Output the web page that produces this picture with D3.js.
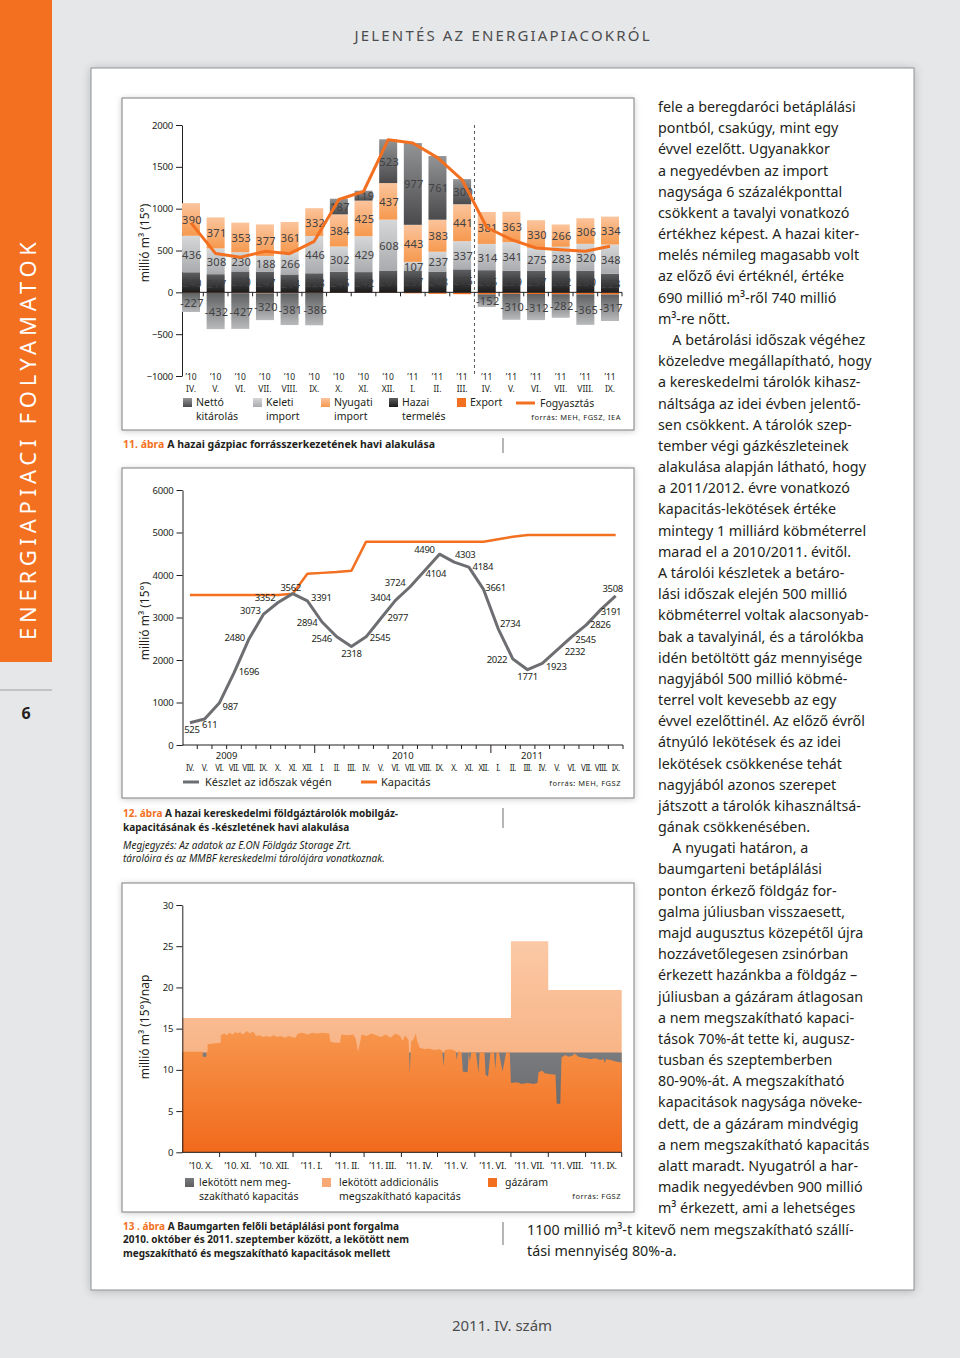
<!DOCTYPE html>
<html lang="hu"><head><meta charset="utf-8"><title>Energiapiaci folyamatok</title>
<script src="https://cdn.jsdelivr.net/npm/d3@7/dist/d3.min.js"></script>
<style>
html,body{margin:0;padding:0;background:#e6e7e8;}
svg{display:block;font-family:"Noto Sans",sans-serif;}
</style></head><body>
<svg id="page" width="960" height="1358" xmlns="http://www.w3.org/2000/svg"></svg>
<script>
// ================= DATA =================
// 11. ábra – monthly gas balance (millió m3)
const months11 = ["IV.","V.","VI.","VII.","VIII.","IX.","X.","XI.","XII.","I.","II.","III.","IV.","V.","VI.","VII.","VIII.","IX."];
const years11 = ["’10","’10","’10","’10","’10","’10","’10","’10","’10","’11","’11","’11","’11","’11","’11","’11","’11","’11"];
const hazaiTermeles = [240,217,250,247,214,228,246,242,261,257,248,275,265,259,257,262,260,223];
const keletiImport  = [436,308,230,188,266,446,302,429,608,107,237,337,314,341,275,283,320,348];
const nyugatiImport = [390,371,353,377,361,332,384,425,437,443,383,441,381,363,330,266,306,334];
const nettoKitarolas = [-227,-432,-427,-320,-381,-386,187,119,523,977,761,300,-152,-310,-312,-282,-365,-317];
const exportValues  = [-8,-8,-10,-12,-10,-8,-6,-6,-8,-12,-18,-22,-24,-18,-20,-22,-24,-26];
const fogyasztas    = [830,463,420,490,462,610,1110,1205,1825,1785,1610,1345,775,630,530,510,490,550];
const yTicks11 = [-1000,-500,0,500,1000,1500,2000];

// 12. ábra – storage stock and capacity (millió m3)
const months12 = ["IV.","V.","VI.","VII.","VIII.","IX.","X.","XI.","XII.","I.","II.","III.","IV.","V.","VI.","VII.","VIII.","IX.","X.","XI.","XII.","I.","II.","III.","IV.","V.","VI.","VII.","VIII.","IX."];
const years12 = ["2009","2010","2011"];
const keszlet   = [525,611,987,1696,2480,3073,3352,3562,3391,2894,2546,2318,2545,2977,3404,3724,4104,4490,4303,4184,3661,2734,2022,1771,1923,2232,2545,2826,3191,3508];
const kapacitas = [3530,3530,3530,3530,3530,3530,3530,3560,4030,4050,4070,4100,4784,4784,4784,4784,4784,4784,4784,4784,4784,4840,4900,4940,4940,4940,4940,4940,4940,4940];
const yTicks12 = [0,1000,2000,3000,4000,5000,6000];

// 13. ábra – Baumgarten entry point (millió m3/nap)
const months13 = ["’10. X.","’10. XI.","’10. XII.","’11. I.","’11. II.","’11. III.","’11. IV.","’11. V.","’11. VI.","’11. VII.","’11. VIII.","’11. IX."];
const monthStarts13 = ["2010-10-01","2010-11-01","2010-12-01","2011-01-01","2011-02-01","2011-03-01","2011-04-01","2011-05-01","2011-06-01","2011-07-01","2011-08-01","2011-09-01"];
const totalCapacity13 = [16.3,16.3,16.3,16.3,16.3,16.3,16.3,16.3,16.3,25.6,19.7,19.7];
const firmCapacity13  = [12.1,12.1,12.1,12.1,12.1,12.1,12.1,12.1,12.1,12.1,12.1,12.1];
const flowDates = ["2010-10-01","2010-10-18","2010-10-18","2010-10-21","2010-10-21","2010-10-22","2010-10-22","2010-10-27","2010-11-02","2010-11-02",
"2010-11-05","2010-11-07","2010-11-09","2010-11-12","2010-11-14","2010-11-16","2010-11-18","2010-11-20","2010-11-22","2010-11-24","2010-11-26","2010-11-28","2010-11-30",
"2010-12-01","2010-12-04","2010-12-07","2010-12-10","2010-12-13","2010-12-16","2010-12-19","2010-12-22","2010-12-25","2010-12-28","2010-12-31",
"2011-01-03","2011-01-05","2011-01-09","2011-01-13","2011-01-17","2011-01-21","2011-01-25","2011-01-31",
"2011-02-01","2011-02-05","2011-02-09","2011-02-10","2011-02-15","2011-02-20","2011-02-22","2011-02-24","2011-02-26","2011-02-27",
"2011-03-03","2011-03-07","2011-03-11","2011-03-15","2011-03-19","2011-03-23","2011-03-27","2011-03-31",
"2011-04-02","2011-04-04","2011-04-06","2011-04-07","2011-04-08","2011-04-09","2011-04-11","2011-04-13","2011-04-14","2011-04-16","2011-04-20","2011-04-24","2011-04-28",
"2011-05-03","2011-05-05","2011-05-06","2011-05-07","2011-05-12","2011-05-16","2011-05-17","2011-05-18","2011-05-21","2011-05-22","2011-05-26","2011-05-27","2011-05-28","2011-05-29",
"2011-06-02","2011-06-04","2011-06-05","2011-06-09","2011-06-10","2011-06-12","2011-06-14","2011-06-17","2011-06-18","2011-06-19","2011-06-21","2011-06-24","2011-06-27","2011-06-30",
"2011-07-01","2011-07-06","2011-07-10","2011-07-15","2011-07-20","2011-07-23","2011-07-24","2011-07-27","2011-07-29",
"2011-08-02","2011-08-07","2011-08-08","2011-08-11","2011-08-12","2011-08-15","2011-08-18","2011-08-21","2011-08-23","2011-08-26","2011-08-29",
"2011-09-02","2011-09-05","2011-09-09","2011-09-13","2011-09-16","2011-09-17","2011-09-18","2011-09-22","2011-09-26","2011-10-01"];
const flowValues = [12.2,12.2,11.6,11.6,12.2,12.2,13.1,13.2,13.3,14.2,
14.4,14.2,14.5,14.3,14.6,14.4,14.6,14.3,14.5,14.7,14.4,14.6,14.5,
14.1,14.2,14.0,14.1,14.0,14.2,14.0,14.1,13.9,14.1,14.0,
13.9,14.4,14.5,14.3,14.5,14.4,14.5,14.4,
13.4,13.3,13.3,14.3,14.2,14.3,13.8,12.2,13.6,14.3,
14.1,14.4,14.2,14.0,14.3,13.9,14.4,14.1,
13.5,14.2,13.8,13.6,9.6,13.4,13.7,14.4,13.6,12.7,12.5,12.6,12.4,
12.5,12.3,10.4,12.4,12.5,12.3,11.2,12.3,12.1,9.8,9.7,12.1,11.0,12.1,
12.1,9.6,12.1,12.1,9.4,9.2,12.1,12.1,10.0,12.1,12.1,9.8,12.1,12.1,
8.4,8.5,8.3,8.4,8.3,8.4,9.7,9.9,9.6,
9.5,9.4,5.9,5.9,11.5,11.8,11.6,11.7,12.0,11.6,11.5,
11.4,11.3,11.4,11.2,11.3,10.8,11.3,11.2,11.0,10.9];
const yTicks13 = [0,5,10,15,20,25,30];

// body text of the right column
const bodyLines = ["fele a beregdaróci betáplálási","pontból, csakúgy, mint egy","évvel ezelőtt. Ugyanakkor","a negyedévben az import","nagysága 6 százalékponttal","csökkent a tavalyi vonatkozó","értékhez képest. A hazai kiter-","melés némileg magasabb volt","az előző évi értéknél, értéke","690 millió m³-ről 740 millió","m³-re nőtt.",
"\u2003A betárolási időszak végéhez","közeledve megállapítható, hogy","a kereskedelmi tárolók kihasz-","náltsága az idei évben jelentő-","sen csökkent. A tárolók szep-","tember végi gázkészleteinek","alakulása alapján látható, hogy","a 2011/2012. évre vonatkozó","kapacitás-lekötések értéke","mintegy 1 milliárd köbméterrel","marad el a 2010/2011. évitől.","A tárolói készletek a betáro-","lási időszak elején 500 millió","köbméterrel voltak alacsonyab-","bak a tavalyinál, és a tárolókba","idén betöltött gáz mennyisége","nagyjából 500 millió köbmé-","terrel volt kevesebb az egy","évvel ezelőttinél. Az előző évről","átnyúló lekötések és az idei","lekötések csökkenése tehát","nagyjából azonos szerepet","játszott a tárolók kihasználtsá-","gának csökkenésében.",
"\u2003A nyugati határon, a","baumgarteni betáplálási","ponton érkező földgáz for-","galma júliusban visszaesett,","majd augusztus közepétől újra","hozzávetőlegesen zsinórban","érkezett hazánkba a földgáz –","júliusban a gázáram átlagosan","a nem megszakítható kapaci-","tások 70%-át tette ki, augusz-","tusban és szeptemberben","80-90%-át. A megszakítható","kapacitások nagysága növeke-","dett, de a gázáram mindvégig","a nem megszakítható kapacitás","alatt maradt. Nyugatról a har-","madik negyedévben 900 millió","m³ érkezett, ami a lehetséges"];
const bodyWideLines = ["1100 millió m³-t kitevő nem megszakítható szállí-","tási mennyiség 80%-a."];

// ================= DRAWING =================
const svg = d3.select("#page");
const defs = svg.append("defs");
const INK = "#231f20", ORANGE = "#f37021";

function shadow(id, dev, op){
  const f = defs.append("filter").attr("id",id).attr("x","-10%").attr("y","-10%").attr("width","120%").attr("height","120%");
  f.append("feDropShadow").attr("dx",0).attr("dy",1).attr("stdDeviation",dev).attr("flood-color","#000").attr("flood-opacity",op);
}
shadow("shPanel",5,0.22); shadow("shBox",3,0.2);

function vgrad(id, top, bottom, user){
  const g = defs.append("linearGradient").attr("id",id);
  if (user) g.attr("gradientUnits","userSpaceOnUse").attr("x1",0).attr("x2",0).attr("y1",user[0]).attr("y2",user[1]);
  else g.attr("x1",0).attr("y1",0).attr("x2",0).attr("y2",1);
  g.append("stop").attr("offset",0).attr("stop-color",top);
  g.append("stop").attr("offset",1).attr("stop-color",bottom);
}
vgrad("gHazai","#5e5f61","#1c1b1c");
vgrad("gKeleti","#d6d7d8","#a9abae");
vgrad("gNyugati","#fbc49c","#f6994f");
vgrad("gKitPos","#939496","#4a4a4c");
vgrad("gKitNeg","#5f6062","#b9babc");
vgrad("gFlow","#f7984f","#f16a1c",[1025,1152]);
vgrad("gExtra","#fbc9a6","#f5a26a",[941,1152]);
vgrad("gFirm","#7a7b7e","#5d5e60");

function text(parent, x, y, s, o = {}) {
  const t = parent.append("text").attr("x",x).attr("y",y).text(s)
    .attr("fill", o.fill || INK).attr("font-size", o.size || 11);
  if (o.anchor) t.attr("text-anchor", o.anchor);
  if (o.weight) t.attr("font-weight", o.weight);
  if (o.style) t.attr("font-style", o.style);
  if (o.ls != null) t.attr("letter-spacing", o.ls);
  if (o.len) t.attr("textLength", o.len);
  if (o.transform) t.attr("transform", o.transform);
  if (o.base) t.attr("dominant-baseline", o.base);
  return t;
}
const fmt = d3.format("d");

// ---- page frame ----
svg.append("rect").attr("width",960).attr("height",1358).attr("fill","#e6e7e8");
svg.append("rect").attr("x",0).attr("y",0).attr("width",52).attr("height",662).attr("fill",ORANGE);
text(svg, 0, 0, "ENERGIAPIACI FOLYAMATOK", {fill:"#ffffff", size:22, anchor:"middle", len:398, transform:"translate(36,441) rotate(-90)"});
svg.append("line").attr("x1",0).attr("x2",52).attr("y1",690).attr("y2",690).attr("stroke","#9d9fa2").attr("stroke-width",1);
text(svg, 26, 719, "6", {size:16, anchor:"middle", weight:"bold"});
text(svg, 502, 41, "JELENTÉS AZ ENERGIAPIACOKRÓL", {size:15, anchor:"middle", fill:"#4d4d4f", len:295});
text(svg, 502, 1331, "2011. IV. szám", {size:15, anchor:"middle", fill:"#4d4d4f"});

svg.append("rect").attr("x",91).attr("y",68).attr("width",823).attr("height",1222)
  .attr("fill","#fff").attr("stroke","#8e9093").attr("stroke-width",1).attr("filter","url(#shPanel)");

// chart boxes
[[122,98,512,332],[122,468,512,330],[122,883,512,329]].forEach(b=>{
  svg.append("rect").attr("x",b[0]).attr("y",b[1]).attr("width",b[2]).attr("height",b[3])
    .attr("fill","#fff").attr("stroke","#7d7f82").attr("stroke-width",1).attr("filter","url(#shBox)");
});

function styleAxis(g, size){
  g.attr("font-family",null).attr("font-size",null);
  g.selectAll("path.domain").attr("stroke",INK);
  g.selectAll(".tick line").attr("stroke",INK);
  g.selectAll(".tick text").attr("fill",INK).attr("font-size",size).attr("letter-spacing",-0.2);
}

// ================= CHART 11 =================
const g11 = svg.append("g");
const x11 = d3.scalePoint().domain(d3.range(months11.length)).range([191, 610]);
const y11 = d3.scaleLinear().domain([-1000, 2000]).range([376, 125]);
const bw11 = 18;

const ax11 = g11.append("g").attr("transform","translate(182,0)")
  .call(d3.axisLeft(y11).tickValues(yTicks11).tickFormat(fmt).tickSize(6).tickSizeOuter(0).tickPadding(3));
styleAxis(ax11, 9.5);

const segs = [];
months11.forEach((m,i)=>{
  let pos = 0;
  [["gHazai",hazaiTermeles[i]],["gKeleti",keletiImport[i]],["gNyugati",nyugatiImport[i]]].forEach(([k,v])=>{
    segs.push({i,k,lo:pos,hi:pos+v,v,label:true}); pos += v;
  });
  if (nettoKitarolas[i] > 0) segs.push({i,k:"gKitPos",lo:pos,hi:pos+nettoKitarolas[i],v:nettoKitarolas[i],label:true});
  let neg = 0;
  segs.push({i,k:"export",lo:exportValues[i],hi:0,v:exportValues[i],label:false}); neg += exportValues[i];
  if (nettoKitarolas[i] < 0) segs.push({i,k:"gKitNeg",lo:neg+nettoKitarolas[i],hi:neg,v:nettoKitarolas[i],label:true});
});
g11.append("g").selectAll("rect").data(segs).join("rect")
  .attr("x",d=>x11(d.i)-bw11/2).attr("width",bw11)
  .attr("y",d=>y11(d.hi)).attr("height",d=>y11(d.lo)-y11(d.hi))
  .attr("fill",d=>d.k==="export"?ORANGE:`url(#${d.k})`);

// zero line with ticks between months
g11.append("line").attr("x1",182).attr("x2",622).attr("y1",y11(0)).attr("y2",y11(0)).attr("stroke",INK).attr("stroke-width",1);
const tickX11 = d3.range(months11.length-1).map(i=>(x11(i)+x11(i+1))/2).concat([x11(months11.length-1)+12]);
g11.append("g").selectAll("line").data(tickX11).join("line")
  .attr("x1",d=>d).attr("x2",d=>d).attr("y1",y11(0)).attr("y2",y11(0)+4).attr("stroke",INK);

// dashed separator between '11 III and '11 IV
const sepX = (x11(11)+x11(12))/2;
g11.append("line").attr("x1",sepX).attr("x2",sepX).attr("y1",y11(2000)).attr("y2",377)
  .attr("stroke","#58595b").attr("stroke-dasharray","3,3").attr("stroke-width",1);

// value labels
g11.append("g").selectAll("text").data(segs.filter(d=>d.label)).join("text")
  .attr("x",d=>x11(d.i)+1).attr("y",d=>y11((d.lo+d.hi)/2)).attr("dominant-baseline","central")
  .attr("text-anchor","middle").attr("font-size",11).attr("letter-spacing",0.3).attr("fill","#414042")
  .text(d=>d.v);

// consumption line
g11.append("path").datum(fogyasztas)
  .attr("d", d3.line().x((d,i)=>x11(i)).y(d=>y11(d)))
  .attr("fill","none").attr("stroke",ORANGE).attr("stroke-width",3).attr("stroke-linejoin","round");

// x labels
months11.forEach((m,i)=>{
  text(g11, x11(i), 380, years11[i], {size:8.5, anchor:"middle"});
  text(g11, x11(i), 391.5, m, {size:8.5, anchor:"middle"});
});
text(g11, 0, 0, "millió m³ (15°)", {size:12, anchor:"middle", transform:"translate(149,243) rotate(-90)"});

// legend
const leg11 = [
  {fill:"url(#gKitPos)", x:183, l1:"Nettó", l2:"kitárolás"},
  {fill:"url(#gKeleti)", x:253, l1:"Keleti", l2:"import"},
  {fill:"url(#gNyugati)", x:321, l1:"Nyugati", l2:"import"},
  {fill:"url(#gHazai)", x:389, l1:"Hazai", l2:"termelés"},
  {fill:ORANGE, x:457, l1:"Export", l2:""}
];
leg11.forEach(d=>{
  g11.append("rect").attr("x",d.x).attr("y",398).attr("width",9).attr("height",9).attr("fill",d.fill);
  text(g11, d.x+13, 406, d.l1, {size:10.5});
  if (d.l2) text(g11, d.x+13, 420.3, d.l2, {size:10.5});
});
g11.append("line").attr("x1",516).attr("x2",535).attr("y1",403).attr("y2",403).attr("stroke",ORANGE).attr("stroke-width",3);
text(g11, 540, 406.5, "Fogyasztás", {size:10.5});
text(g11, 621, 420, "forrás: MEH, FGSZ, IEA", {size:7.5, anchor:"end", ls:0.5});

// caption 11
const cap11 = svg.append("text").attr("x",123).attr("y",448).attr("font-size",10.5).attr("font-weight","bold").attr("fill",INK);
cap11.append("tspan").attr("fill",ORANGE).text("11. ábra");
cap11.append("tspan").text(" A hazai gázpiac forrásszerkezetének havi alakulása");

// ================= CHART 12 =================
const g12 = svg.append("g");
const x12 = d3.scaleBand().domain(d3.range(months12.length)).range([182.6, 623]);
const cx12 = i => x12(i) + x12.bandwidth()/2;
const y12 = d3.scaleLinear().domain([0, 6000]).range([745, 490]);

const ax12 = g12.append("g").attr("transform","translate(182.5,0)")
  .call(d3.axisLeft(y12).tickValues(yTicks12).tickFormat(fmt).tickSize(6).tickSizeOuter(0).tickPadding(3));
styleAxis(ax12, 9.5);
g12.append("line").attr("x1",182.5).attr("x2",623).attr("y1",745).attr("y2",745).attr("stroke",INK);
const bounds12 = d3.range(1, months12.length+1).map(i=>({x: i<months12.length ? x12(i) : 623, big: months12[i]==="I."}));
g12.append("g").selectAll("line").data(bounds12).join("line")
  .attr("x1",d=>d.x).attr("x2",d=>d.x).attr("y1",745).attr("y2",d=>d.big?753:749).attr("stroke",INK);

g12.append("path").datum(kapacitas)
  .attr("d", d3.line().x((d,i)=>cx12(i)).y(d=>y12(d)))
  .attr("fill","none").attr("stroke",ORANGE).attr("stroke-width",2.5).attr("stroke-linejoin","round");
g12.append("path").datum(keszlet)
  .attr("d", d3.line().x((d,i)=>cx12(i)).y(d=>y12(d)))
  .attr("fill","none").attr("stroke","#6d6e71").attr("stroke-width",3).attr("stroke-linejoin","round");

// label offsets (layout only)
const lblOff12 = [[2,7],[5,5],[11,3],[15,-1],[-14,-2],[-13,-4],[-13,-5],[-2,-6],[14,-3],[-15,0],[-15,2],[0,7],[14,1],[17,-1],[-15,-3],[-15,-4],[11,3],[-15,-5],[11,-8],[14,-1],[12,-2],[12,-5],[-16,0],[0,7],[14,3],[18,1],[14,2.5],[14,-0.5],[10,2],[-3,-7]];
g12.append("g").selectAll("text").data(keszlet).join("text")
  .attr("x",(d,i)=>cx12(i)+lblOff12[i][0]).attr("y",(d,i)=>y12(d)+lblOff12[i][1])
  .attr("text-anchor","middle").attr("dominant-baseline","central")
  .attr("font-size",9.5).attr("letter-spacing",-0.3).attr("fill",INK).text(d=>d);

months12.forEach((m,i)=>text(g12, cx12(i), 771, m, {size:8, anchor:"middle", ls:-0.5}));
const yearPos12 = [2.5, 14.5, 23.3];
years12.forEach((y,k)=>{
  const p = yearPos12[k]; const i0 = Math.floor(p);
  const xx = cx12(i0) + (p - i0) * x12.step();
  text(g12, xx, 759, y, {size:9.5, anchor:"middle"});
});
text(g12, 0, 0, "millió m³ (15°)", {size:12, anchor:"middle", transform:"translate(149,621) rotate(-90)"});
g12.append("line").attr("x1",183).attr("x2",199).attr("y1",782).attr("y2",782).attr("stroke","#6d6e71").attr("stroke-width",3);
text(g12, 205, 786, "Készlet az időszak végén", {size:11});
g12.append("line").attr("x1",361).attr("x2",377).attr("y1",782).attr("y2",782).attr("stroke",ORANGE).attr("stroke-width",3);
text(g12, 381, 786, "Kapacitás", {size:11});
text(g12, 621, 786, "forrás: MEH, FGSZ", {size:7.5, anchor:"end", ls:0.5});

// caption 12
const cap12 = svg.append("text").attr("x",123).attr("y",817).attr("font-size",10).attr("font-weight","bold").attr("fill",INK);
cap12.append("tspan").attr("fill",ORANGE).text("12. ábra");
cap12.append("tspan").text(" A hazai kereskedelmi földgáztárolók mobilgáz-");
text(svg, 123, 830.8, "kapacitásának és -készletének havi alakulása", {size:10, weight:"bold"});
text(svg, 123, 848.5, "Megjegyzés: Az adatok az E.ON Földgáz Storage Zrt.", {size:10, style:"italic"});
text(svg, 123, 862.3, "tárolóira és az MMBF kereskedelmi tárolójára vonatkoznak.", {size:10, style:"italic"});

// ================= CHART 13 =================
const g13 = svg.append("g");
const parse = d3.utcParse("%Y-%m-%d");
const start13 = parse("2010-10-01"), end13 = parse("2011-10-01");
const x13 = d3.scaleUtc().domain([start13, end13]).range([182.3, 621.7]);
const y13 = d3.scaleLinear().domain([0, 30]).range([1152.3, 905]);

const stepPts = vals => monthStarts13.map((d,i)=>({d:parse(d), v:vals[i]})).concat([{d:end13, v:vals[vals.length-1]}]);
const areaStep = d3.area().curve(d3.curveStepAfter).x(p=>x13(p.d)).y0(y13(0)).y1(p=>y13(p.v));
g13.append("path").datum(stepPts(totalCapacity13)).attr("d", areaStep).attr("fill","url(#gExtra)");
g13.append("path").datum(stepPts(firmCapacity13)).attr("d", areaStep).attr("fill","url(#gFirm)");
const flowPts = flowDates.map((d,i)=>({d:parse(d), v:flowValues[i]}));
g13.append("path").datum(flowPts)
  .attr("d", d3.area().x(p=>x13(p.d)).y0(y13(0)).y1(p=>y13(p.v))).attr("fill","url(#gFlow)");

const ax13 = g13.append("g").attr("transform","translate(182.3,0)")
  .call(d3.axisLeft(y13).tickValues(yTicks13).tickFormat(fmt).tickSize(6).tickSizeOuter(0).tickPadding(3));
styleAxis(ax13, 9.5);
g13.append("line").attr("x1",182.3).attr("x2",621.7).attr("y1",1152.3).attr("y2",1152.3).attr("stroke",INK);
const mStarts = monthStarts13.map(parse).concat([end13]);
g13.append("g").selectAll("line").data(mStarts.slice(1)).join("line")
  .attr("x1",d=>x13(d)).attr("x2",d=>x13(d)).attr("y1",1152.3).attr("y2",1157).attr("stroke",INK);
months13.forEach((m,i)=>{
  const xm = (x13(mStarts[i]) + x13(mStarts[i+1]))/2;
  text(g13, xm, 1169, m, {size:9.5, anchor:"middle", ls:-0.3});
});
text(g13, 0, 0, "millió m³ (15°)/nap", {size:12, anchor:"middle", transform:"translate(149,1027) rotate(-90)"});

g13.append("rect").attr("x",185).attr("y",1178).attr("width",9).attr("height",9).attr("fill","url(#gFirm)");
text(g13, 199, 1186, "lekötött nem meg-", {size:10.5});
text(g13, 199, 1200.3, "szakítható kapacitás", {size:10.5});
g13.append("rect").attr("x",322).attr("y",1178).attr("width",9).attr("height",9).attr("fill","#f7a874");
text(g13, 339, 1186, "lekötött addicionális", {size:10.5});
text(g13, 339, 1200.3, "megszakítható kapacitás", {size:10.5});
g13.append("rect").attr("x",488).attr("y",1178).attr("width",9).attr("height",9).attr("fill",ORANGE);
text(g13, 505, 1186, "gázáram", {size:10.5});
text(g13, 621, 1199, "forrás: FGSZ", {size:7.5, anchor:"end", ls:0.5});

// caption 13
const cap13 = svg.append("text").attr("x",123).attr("y",1229.5).attr("font-size",10).attr("font-weight","bold").attr("fill",INK);
cap13.append("tspan").attr("fill",ORANGE).text("13 . ábra");
cap13.append("tspan").text(" A Baumgarten felőli betáplálási pont forgalma");
text(svg, 123, 1243.3, "2010. október és 2011. szeptember között, a lekötött nem", {size:10, weight:"bold"});
text(svg, 123, 1257.1, "megszakítható és megszakítható kapacitások mellett", {size:10, weight:"bold"});

// column separators
[[438,453],[808,828],[1222,1245]].forEach(s=>{
  svg.append("line").attr("x1",503).attr("x2",503).attr("y1",s[0]).attr("y2",s[1]).attr("stroke","#6d6e71").attr("stroke-width",1);
});

// ================= BODY TEXT =================
const lineH = 21.18;
bodyLines.forEach((l,i)=>text(svg, 658, 112 + i*lineH, l, {size:14.3, fill:INK}));
bodyWideLines.forEach((l,i)=>text(svg, 527, 112 + (bodyLines.length+i)*lineH, l, {size:14.3, fill:INK}));
</script>
</body></html>
